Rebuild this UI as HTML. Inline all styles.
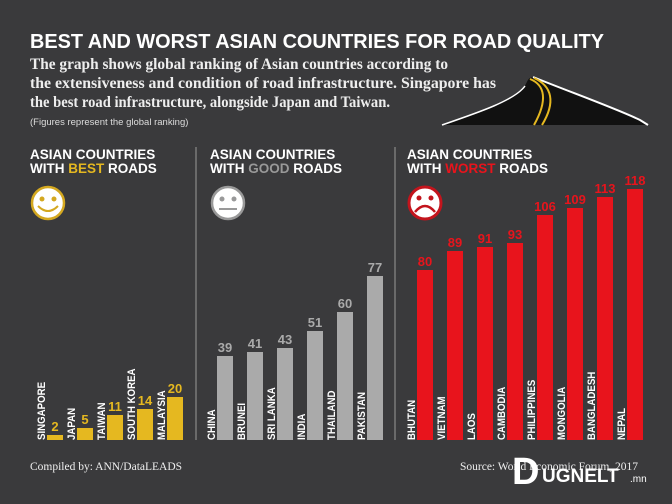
<!DOCTYPE html>
<html><head><meta charset="utf-8"><style>
html,body{margin:0;padding:0;background:#3a3a3c;}
svg{display:block}
.h{font-family:"Liberation Sans",sans-serif;font-weight:bold;fill:#fff}
.s{font-family:"Liberation Serif",serif;fill:#eee}
.lab{font-family:"Liberation Sans",sans-serif;font-weight:bold;font-size:11px;fill:#fff}
.v{font-family:"Liberation Sans",sans-serif;font-weight:bold;font-size:13px;text-anchor:middle}
</style></head><body>
<svg width="672" height="504" viewBox="0 0 672 504" xmlns="http://www.w3.org/2000/svg">
<rect width="672" height="504" fill="#3a3a3c"/>
<!-- road -->
<path d="M442 125 C480 112,515 100,525 86 C528 80,528 78,533 77 C545 80,570 92,595 102 C620 112,640 118,648 125 Z" fill="#111"/>
<path d="M442 125 C480 112,515 100,525 86" fill="none" stroke="#fff" stroke-width="1.5"/>
<path d="M533 77 C570 92,615 108,640 120 L648 125" fill="none" stroke="#fff" stroke-width="2"/>
<path d="M530 79 C545 85,548 100,534 125 M534 78 C552 86,556 102,542 125" fill="none" stroke="#e5b820" stroke-width="2"/>
<text class="h" x="30" y="48" font-size="20" textLength="574" lengthAdjust="spacingAndGlyphs">BEST AND WORST ASIAN COUNTRIES FOR ROAD QUALITY</text>
<text class="s" font-size="15.5" font-weight="bold" x="30" y="69" textLength="418" lengthAdjust="spacingAndGlyphs">The graph shows global ranking of Asian countries according to</text>
<text class="s" font-size="15.5" font-weight="bold" x="30" y="88" textLength="466" lengthAdjust="spacingAndGlyphs">the extensiveness and condition of road infrastructure. Singapore has</text>
<text class="s" font-size="15.5" font-weight="bold" x="30" y="107" textLength="360" lengthAdjust="spacingAndGlyphs">the best road infrastructure, alongside Japan and Taiwan.</text>
<text x="30" y="125" font-family="Liberation Sans,sans-serif" font-size="9.5" fill="#ddd">(Figures represent the global ranking)</text>
<line x1="196" y1="147" x2="196" y2="440" stroke="#999" stroke-width="1"/>
<line x1="395" y1="147" x2="395" y2="440" stroke="#999" stroke-width="1"/>
<text class="h" font-size="13.5" x="30" y="159">ASIAN COUNTRIES</text>
<text class="h" font-size="13.5" x="30" y="173">WITH <tspan fill="#e5b820">BEST</tspan> ROADS</text>
<text class="h" font-size="13.5" x="210" y="159">ASIAN COUNTRIES</text>
<text class="h" font-size="13.5" x="210" y="173">WITH <tspan fill="#999">GOOD</tspan> ROADS</text>
<text class="h" font-size="13.5" x="407" y="159">ASIAN COUNTRIES</text>
<text class="h" font-size="13.5" x="407" y="173">WITH <tspan fill="#e8141c">WORST</tspan> ROADS</text>
<circle cx="48" cy="203" r="16" fill="#fff" stroke="#d4a820" stroke-width="2.5"/>
<circle cx="42" cy="199" r="2.5" fill="#d4a820"/><circle cx="54" cy="199" r="2.5" fill="#d4a820"/>
<path d="M38 206 Q48 216 58 206" fill="none" stroke="#d4a820" stroke-width="2"/>
<circle cx="228" cy="203" r="16" fill="#fff" stroke="#999" stroke-width="2.5"/>
<circle cx="222" cy="199" r="2.5" fill="#999"/><circle cx="234" cy="199" r="2.5" fill="#999"/>
<line x1="219" y1="209" x2="237" y2="209" stroke="#999" stroke-width="2"/>
<circle cx="425" cy="203" r="16" fill="#fff" stroke="#c3141c" stroke-width="3"/>
<circle cx="419" cy="198" r="2.5" fill="#c3141c"/><circle cx="431" cy="198" r="2.5" fill="#c3141c"/>
<path d="M415 212 Q425 200 435 212" fill="none" stroke="#c3141c" stroke-width="2.5"/>
<g fill="#e5b820">
<rect x="47" y="435" width="16" height="5"/><rect x="77" y="428" width="16" height="12"/>
<rect x="107" y="415" width="16" height="25"/><rect x="137" y="409" width="16" height="31"/>
<rect x="167" y="397" width="16" height="43"/>
</g>
<g class="v" fill="#e5b820">
<text x="55" y="431">2</text><text x="85" y="424">5</text><text x="115" y="411">11</text><text x="145" y="405">14</text><text x="175" y="393">20</text>
</g>
<g fill="#aaa">
<rect x="217" y="356" width="16" height="84"/><rect x="247" y="352" width="16" height="88"/>
<rect x="277" y="348" width="16" height="92"/><rect x="307" y="331" width="16" height="109"/>
<rect x="337" y="312" width="16" height="128"/><rect x="367" y="276" width="16" height="164"/>
</g>
<g class="v" fill="#aaa">
<text x="225" y="352">39</text><text x="255" y="348">41</text><text x="285" y="344">43</text><text x="315" y="327">51</text><text x="345" y="308">60</text><text x="375" y="272">77</text>
</g>
<g fill="#e8141c">
<rect x="417" y="270" width="16" height="170"/><rect x="447" y="251" width="16" height="189"/>
<rect x="477" y="247" width="16" height="193"/><rect x="507" y="243" width="16" height="197"/>
<rect x="537" y="215" width="16" height="225"/><rect x="567" y="208" width="16" height="232"/>
<rect x="597" y="197" width="16" height="243"/><rect x="627" y="189" width="16" height="251"/>
</g>
<g class="v" fill="#e8141c">
<text x="425" y="266">80</text><text x="455" y="247">89</text><text x="485" y="243">91</text><text x="515" y="239">93</text><text x="545" y="211">106</text><text x="575" y="204">109</text><text x="605" y="193">113</text><text x="635" y="185">118</text>
</g>
<g class="lab">
<text transform="translate(45,440) rotate(-90) scale(0.88,1)">SINGAPORE</text>
<text transform="translate(75,440) rotate(-90) scale(0.88,1)">JAPAN</text>
<text transform="translate(105,440) rotate(-90) scale(0.88,1)">TAIWAN</text>
<text transform="translate(135,440) rotate(-90) scale(0.88,1)">SOUTH KOREA</text>
<text transform="translate(165,440) rotate(-90) scale(0.88,1)">MALAYSIA</text>
<text transform="translate(215,440) rotate(-90) scale(0.88,1)">CHINA</text>
<text transform="translate(245,440) rotate(-90) scale(0.88,1)">BRUNEI</text>
<text transform="translate(275,440) rotate(-90) scale(0.88,1)">SRI LANKA</text>
<text transform="translate(305,440) rotate(-90) scale(0.88,1)">INDIA</text>
<text transform="translate(335,440) rotate(-90) scale(0.88,1)">THAILAND</text>
<text transform="translate(365,440) rotate(-90) scale(0.88,1)">PAKISTAN</text>
<text transform="translate(415,440) rotate(-90) scale(0.88,1)">BHUTAN</text>
<text transform="translate(445,440) rotate(-90) scale(0.88,1)">VIETNAM</text>
<text transform="translate(475,440) rotate(-90) scale(0.88,1)">LAOS</text>
<text transform="translate(505,440) rotate(-90) scale(0.88,1)">CAMBODIA</text>
<text transform="translate(535,440) rotate(-90) scale(0.88,1)">PHILIPPINES</text>
<text transform="translate(565,440) rotate(-90) scale(0.88,1)">MONGOLIA</text>
<text transform="translate(595,440) rotate(-90) scale(0.88,1)">BANGLADESH</text>
<text transform="translate(625,440) rotate(-90) scale(0.88,1)">NEPAL</text>
</g>
<text class="s" x="30" y="470" font-size="11.5">Compiled by: ANN/DataLEADS</text>
<text class="s" x="460" y="470" font-size="11.5">Source: World Economic Forum, 2017</text>
<text x="512" y="484" font-family="Liberation Sans,sans-serif" font-weight="bold" font-size="38" fill="#fff">D</text>
<text x="542" y="482" font-family="Liberation Sans,sans-serif" font-weight="bold" font-size="19" fill="#fff">UGNELT</text>
<text x="630" y="482" font-family="Liberation Sans,sans-serif" font-size="10" fill="#fff">.mn</text>
</svg>
</body></html>
